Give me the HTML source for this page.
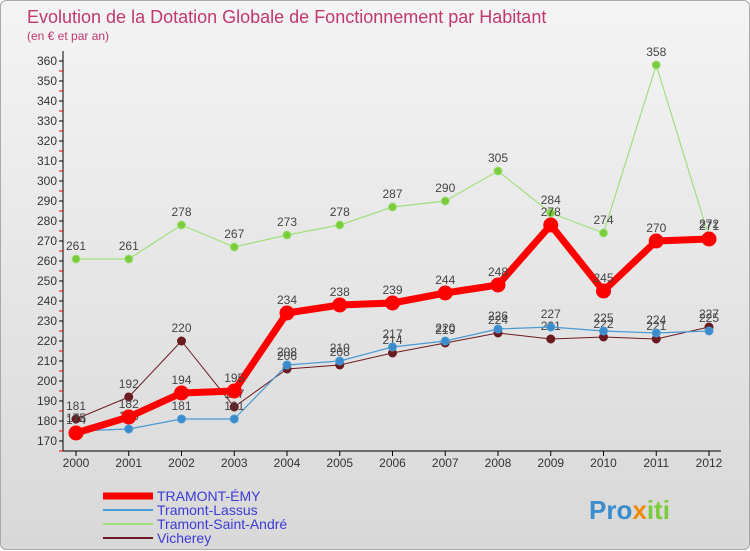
<!DOCTYPE html>
<html><head><meta charset="utf-8"><style>
body{margin:0;width:750px;height:550px;overflow:hidden;font-family:"Liberation Sans",sans-serif}
#wrap{position:absolute;left:0;top:0;width:748px;height:548px;border:1px solid #aaa;border-radius:6px;background:linear-gradient(#f4f4f4,#d8d8d8)}
</style></head><body>
<div id="wrap">
<svg id="c" width="750" height="550" style="position:absolute;left:0;top:0"></svg>
</div>
<script>
const years=[2000,2001,2002,2003,2004,2005,2006,2007,2008,2009,2010,2011,2012];
const emy=[174,182,194,195,234,238,239,244,248,278,245,270,271];
const lassus=[175,176,181,181,208,210,217,220,226,227,225,224,225];
const andre=[261,261,278,267,273,278,287,290,305,284,274,358,272];
const vich=[181,192,220,187,206,208,214,219,224,221,222,221,227];
const yTicks=[170,180,190,200,210,220,230,240,250,260,270,280,290,300,310,320,330,340,350,360];
const NS="http://www.w3.org/2000/svg",svg=document.getElementById('c');
const X=i=>75+i*52.75, Y=v=>440-(v-170)*2;
function mk(t,a,p){const e=document.createElementNS(NS,t);for(const k in a)e.setAttribute(k,a[k]);(p||svg).appendChild(e);return e;}
function tx(s,x,y,a){const e=mk('text',Object.assign({x,y,'font-size':12,fill:'#333'},a||{}));e.textContent=s;return e;}
let t=tx('Evolution de la Dotation Globale de Fonctionnement par Habitant',26,22,{'font-size':18,fill:'#c0386e'});

t=tx('(en € et par an)',26,39,{'font-size':12,fill:'#c0386e'});

let ax=mk('line',{x1:62,y1:50,x2:62,y2:450,stroke:'#000'});
ax=mk('line',{x1:62,y1:450,x2:720,y2:450,stroke:'#000'});
yTicks.forEach(v=>{mk('line',{x1:58,y1:Y(v),x2:62,y2:Y(v),stroke:'#000'});mk('line',{x1:58,y1:Y(v)+10,x2:62,y2:Y(v)+10,stroke:'#e00'});
 const l=tx(v,56,Y(v)+4,{'text-anchor':'end'});});
years.forEach((y,i)=>{mk('line',{x1:X(i),y1:450,x2:X(i),y2:455,stroke:'#000'});
 const l=tx(y,X(i),466,{'text-anchor':'middle'});});
function series(d,col,w,r,name,dot){
 const g=mk('g',{});
 mk('polyline',{points:d.map((v,i)=>X(i)+','+Y(v)).join(' '),fill:'none',stroke:col,'stroke-width':w,'stroke-linejoin':'round'},g);
 d.forEach((v,i)=>{const c=mk('circle',{cx:X(i),cy:Y(v),r,fill:dot,stroke:col,'stroke-width':1},g);
  tx(v,X(i),Y(v)-9,{'text-anchor':'middle',fill:'#444','font-size':12},g);});
}
series(vich,'#6b1a1f',1,4,'series-vicherey','#6b1a1f');
series(lassus,'#4a9ad4',1.2,4,'series-tramont-lassus','#3a8ccc');
series(andre,'#9ee07a',1.2,4,'series-tramont-saint-andre','#7acc3a');
series(emy,'#ff0000',7,7,'series-tramont-emy','#ff0000');
const leg=[['TRAMONT-ÉMY','#ff0000',7],['Tramont-Lassus','#4a9ad4',2],['Tramont-Saint-André','#9ee07a',2],['Vicherey','#6b1a1f',2]];
leg.forEach((l,i)=>{const g=mk('g',{});
 const y=495+i*14;mk('line',{x1:102,y1:y,x2:152,y2:y,stroke:l[1],'stroke-width':l[2]},g);tx(l[0],156,y+5,{'font-size':14,fill:'#3b3bd6'},g);});
const lg=tx('',588,518,{'font-size':26,'font-weight':'bold'});
[['Pro','#3a8ccc'],['x','#f08a00'],['iti','#7acc3a']].forEach(p=>{const s=mk('tspan',{fill:p[1]},lg);s.textContent=p[0];});
</script>
</body></html>
